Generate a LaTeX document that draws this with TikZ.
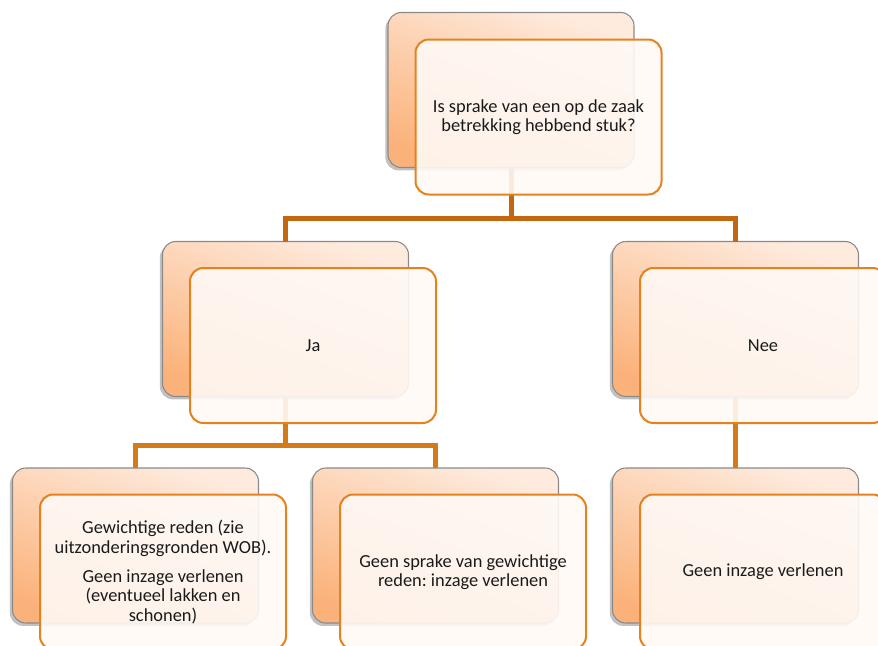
\documentclass[tikz,border=0pt]{standalone}
\usepackage{fontspec}
\setmainfont{Carlito}
\usetikzlibrary{shadows}
\frenchspacing

\definecolor{peachlight}{HTML}{FEEBDE}
\definecolor{peachdark}{HTML}{FBB27A}
\definecolor{cardedge}{HTML}{E5821E}
\definecolor{cardfill}{HTML}{FFF9F5}
\definecolor{plateedge}{HTML}{8A8A8A}
\definecolor{busdark}{HTML}{C2660F}
\definecolor{buslight}{HTML}{D57A18}
\definecolor{inktext}{HTML}{1A1A1A}

\tikzset{
  platebox/.style={rectangle, rounded corners=10pt,
    minimum width=184.5pt, minimum height=116.25pt,
    inner sep=0pt, outer sep=0pt,
    draw=plateedge, line width=0.8pt,
    top color=peachlight, bottom color=peachdark, shading angle=-20,
    drop shadow={shadow xshift=-2pt, shadow yshift=-2.2pt,
                 opacity=0.35, fill=black!70}},
  cardbox/.style={rectangle, rounded corners=10pt,
    minimum width=184.5pt, minimum height=116.25pt,
    inner sep=4pt, outer sep=0pt,
    draw=cardedge, line width=1.5pt,
    fill=cardfill, fill opacity=0.9, text opacity=1,
    align=center, text=inktext,
    font=\fontsize{13.8}{14.6}\selectfont},
  busline/.style={line width=3.75pt}
}

\begin{document}
\begin{tikzpicture}[x=0.75pt,y=-0.75pt]
\useasboundingbox (0,0) rectangle (878,646);
\clip (0,0) rectangle (878,646);

% shaded back plates
\node[platebox] (qb) at (511,90) {};
\node[platebox] (jb) at (285.5,319) {};
\node[platebox] (nb) at (735.5,319) {};
\node[platebox] (gb) at (135.5,545.5) {};
\node[platebox] (sb) at (435.5,545.5) {};
\node[platebox] (vb) at (735.5,545.5) {};

% hierarchy connectors
\coordinate (bus1) at (511,218);
\coordinate (bus2) at (285.5,445.5);
\draw[busline, busdark] (qb.south) -- (qb.south |- bus1) -| (jb.north);
\draw[busline, busdark] (qb.south |- bus1) -| (nb.north);
\draw[busline, buslight] (jb.south) -- (jb.south |- bus2) -| (gb.north);
\draw[busline, buslight] (jb.south |- bus2) -| (sb.north);
\draw[busline, buslight] (nb.south) -- (vb.north);

% text cards
\node[cardbox] (q) at (538.5,117)
  {Is sprake van een op de zaak\\betrekking hebbend stuk?};
\node[cardbox] (ja) at (313,345.5) {Ja};
\node[cardbox] (nee) at (763,345.5) {Nee};
\node[cardbox] (gw) at (163,572)
  {Gewichtige reden (zie\\uitzonderingsgronden WOB).\\[7pt]
   Geen inzage verlenen\\(eventueel lakken en\\schonen)};
\node[cardbox] (gs) at (463,572)
  {Geen sprake van gewichtige\\reden: inzage verlenen};
\node[cardbox] (gv) at (763,572) {Geen inzage verlenen};
\end{tikzpicture}
\end{document}
